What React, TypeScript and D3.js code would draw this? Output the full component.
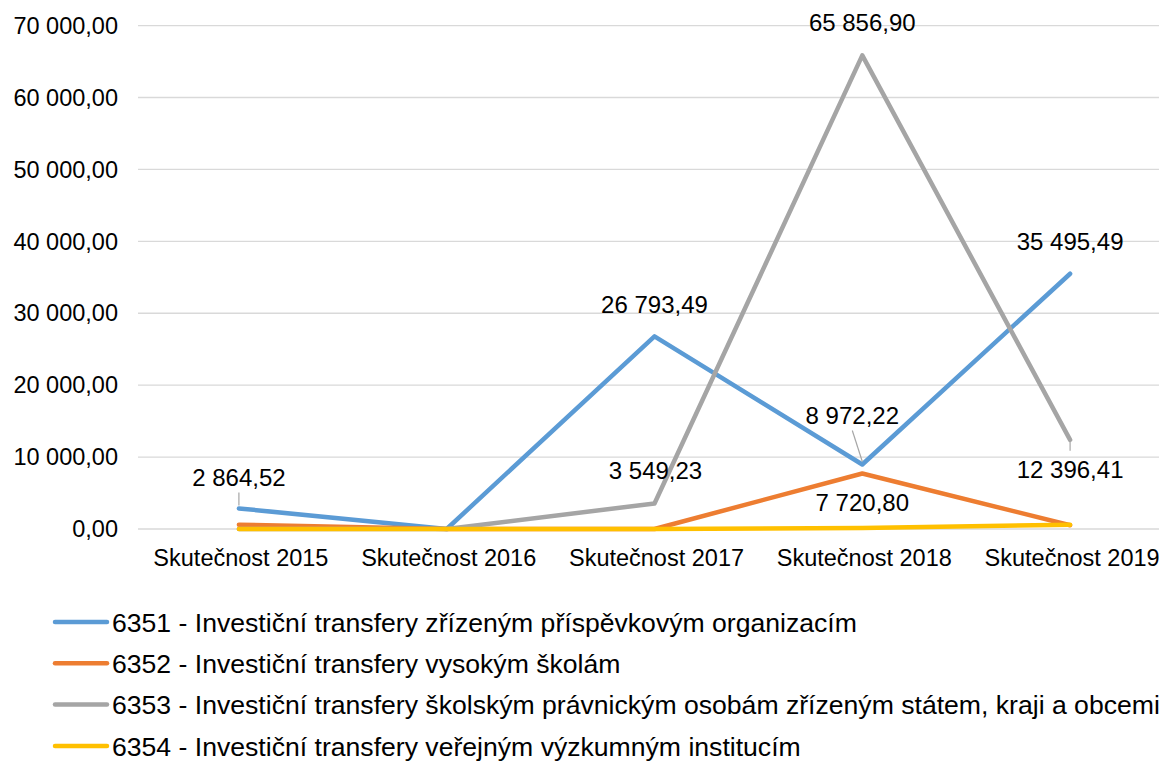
import * as d3 from "d3";

const categories = ["Skutečnost 2015", "Skutečnost 2016", "Skutečnost 2017", "Skutečnost 2018", "Skutečnost 2019"];
const seriesNames = [
  "6351 - Investiční transfery zřízeným příspěvkovým organizacím",
  "6352 - Investiční transfery vysokým školám",
  "6353 - Investiční transfery školským právnickým osobám zřízeným státem, kraji a obcemi",
  "6354 - Investiční transfery veřejným výzkumným institucím",
];
const colors = ["#5B9BD5", "#ED7D31", "#A5A5A5", "#FFC000"];
const v6351 = [2864.52, 0, 26793.49, 8972.22, 35495.49];
const v6352 = [600, 0, 0, 7720.8, 520];
const v6353 = [0, 0, 3549.23, 65856.9, 12396.41];
const v6354 = [0, 0, 0, 150, 600];
const yTicks = [0, 10000, 20000, 30000, 40000, 50000, 60000, 70000];

// which points get a data label: [series, index, dx, dy, leader]
const labels: [number, number, number, number, boolean][] = [
  [0, 0, 0, -31, true],
  [0, 2, 0, -32, false],
  [0, 3, -10, -49, true],
  [0, 4, 0, -32, false],
  [2, 2, 1, -33, false],
  [2, 3, 0, -33, false],
  [2, 4, 0, 30, true],
  [1, 3, 0, 29, false],
];

const locale = d3.formatLocale({ decimal: ",", thousands: " ", grouping: [3], currency: ["", ""] });
const fmt = locale.format(",.2f");

export default function App() {
  const W = 1159;
  const H = 761;
  const left = 135;
  const right = 1174;
  const top = 25.6;
  const bottom = 529;
  const font = "Liberation Sans, Arial, sans-serif";
  const all = [v6351, v6352, v6353, v6354];

  const x = d3.scaleBand().domain(categories).range([left, right]);
  const cx = (i: number) => (x(categories[i]) ?? 0) + x.bandwidth() / 2;
  const y = d3.scaleLinear().domain([0, 70000]).range([bottom, top]);
  const line = d3
    .line<number>()
    .x((_, i) => cx(i))
    .y((d) => y(d));

  return (
    <svg width={W} height={H} style={{ position: "absolute", left: 0, top: 0 }} fontFamily={font}>
      {yTicks.map((t) => (
        <g key={t}>
          <line x1={138} x2={W} y1={y(t)} y2={y(t)} stroke="#D9D9D9" strokeWidth={1.3} />
          <text x={118} y={y(t)} dy="0.35em" textAnchor="end" fontSize={23.5} fill="#000">
            {fmt(t)}
          </text>
        </g>
      ))}
      {categories.map((c, i) => (
        <text key={c} x={cx(i) + 2} y={566} textAnchor="middle" fontSize={23.5} fill="#000">
          {c}
        </text>
      ))}
      {[0, 1, 2, 3].map((s) => (
        <path
          key={s}
          d={line(all[s]) ?? ""}
          fill="none"
          stroke={colors[s]}
          strokeWidth={4.5}
          strokeLinejoin="round"
          strokeLinecap="round"
        />
      ))}
      {labels.map(([s, i, dx, dy, leader]) => {
        const px = cx(i);
        const py = y(all[s][i]);
        const lx = px + dx;
        const ly = py + dy;
        return (
          <g key={`${s}-${i}`}>
            {leader && (
              <line
                x1={lx}
                y1={dy < 0 ? ly + 15 : ly - 19}
                x2={px}
                y2={dy < 0 ? py - 3 : py + 2}
                stroke="#A6A6A6"
                strokeWidth={1.2}
              />
            )}
            <text x={lx} y={ly} dy="0.35em" textAnchor="middle" fontSize={24} fill="#000">
              {fmt(all[s][i])}
            </text>
          </g>
        );
      })}
      {seriesNames.map((n, k) => (
        <g key={n} transform={`translate(0, ${622 + k * 41.3})`}>
          <line x1={55} x2={107} y1={0} y2={0} stroke={colors[k]} strokeWidth={4.5} strokeLinecap="round" />
          <text x={112} y={0} dy="0.37em" fontSize={26.6} fill="#000">
            {n}
          </text>
        </g>
      ))}
    </svg>
  );
}
